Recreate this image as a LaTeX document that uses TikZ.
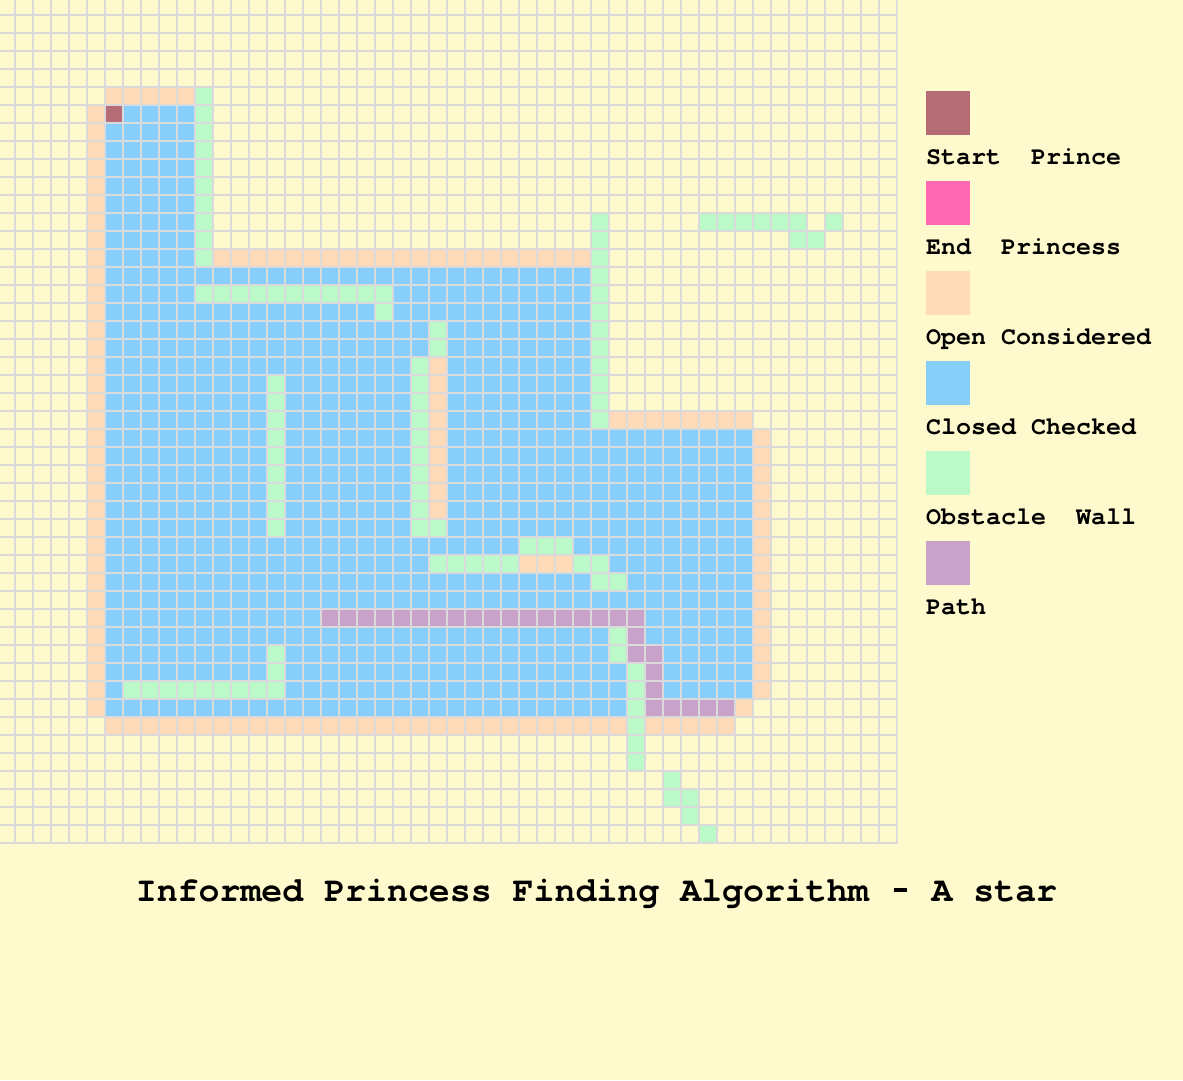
\documentclass[tikz,border=0pt]{standalone}
\usepackage{fontspec}
\setmonofont{texgyrecursor}[Extension=.otf,UprightFont=*-regular,BoldFont=*-bold]
\definecolor{bgc}{RGB}{255,250,205}
\definecolor{gridc}{RGB}{218,218,218}
\definecolor{bluec}{RGB}{135,206,250}
\definecolor{peachc}{RGB}{255,218,185}
\definecolor{greenc}{RGB}{187,250,200}
\definecolor{purplec}{RGB}{200,162,200}
\definecolor{startc}{RGB}{181,108,118}
\definecolor{endc}{RGB}{255,105,180}
\newcommand\cells[5]{\fill[#1] ({18*#2-3.3},{18*#3-3.3}) rectangle ({18*#4+14.7},{18*#5+14.7});}
\newcommand\shorthyph{\makebox[0.6em]{\rule[0.27em]{0.38em}{0.09em}}}
\tikzset{
  legbox/.style={minimum width=44pt,minimum height=44pt,inner sep=0pt,anchor=north west},
  leglabel/.style={anchor=base west,inner sep=0pt,font=\ttfamily\bfseries\fontsize{25}{28}\selectfont},
  gridline/.style={gridc,line width=1.8pt}
}
\begin{document}
\begin{tikzpicture}[x=1pt,y=-1pt]
\fill[bgc] (0,0) rectangle (1183,1080);
\useasboundingbox (0,0) rectangle (1183,1080);
\begin{scope}
\clip (0,0) rectangle (897.6,843.6);
% closed / checked
\cells{bluec}{6}{6}{10}{14}
\cells{bluec}{6}{15}{32}{23}
\cells{bluec}{6}{24}{41}{39}
% open / considered
\cells{peachc}{6}{5}{10}{5}
\cells{peachc}{5}{6}{5}{39}
\cells{peachc}{12}{14}{32}{14}
\cells{peachc}{34}{23}{41}{23}
\cells{peachc}{42}{24}{42}{38}
\cells{peachc}{41}{39}{41}{39}
\cells{peachc}{6}{40}{34}{40}
\cells{peachc}{36}{40}{40}{40}
\cells{peachc}{24}{20}{24}{28}
\cells{peachc}{29}{31}{31}{31}
% obstacles
\cells{greenc}{11}{5}{11}{14}
\cells{greenc}{33}{12}{33}{23}
\cells{greenc}{39}{12}{44}{12}
\cells{greenc}{46}{12}{46}{12}
\cells{greenc}{44}{13}{45}{13}
\cells{greenc}{11}{16}{21}{16}
\cells{greenc}{21}{17}{21}{17}
\cells{greenc}{24}{18}{24}{19}
\cells{greenc}{23}{20}{23}{29}
\cells{greenc}{24}{29}{24}{29}
\cells{greenc}{15}{21}{15}{29}
\cells{greenc}{15}{36}{15}{38}
\cells{greenc}{7}{38}{15}{38}
\cells{greenc}{29}{30}{31}{30}
\cells{greenc}{24}{31}{28}{31}
\cells{greenc}{32}{31}{33}{31}
\cells{greenc}{33}{32}{34}{32}
\cells{greenc}{34}{35}{34}{36}
\cells{greenc}{35}{37}{35}{42}
\cells{greenc}{37}{43}{37}{44}
\cells{greenc}{38}{44}{38}{45}
\cells{greenc}{39}{46}{39}{46}
% path
\cells{purplec}{18}{34}{35}{34}
\cells{purplec}{35}{35}{35}{36}
\cells{purplec}{36}{36}{36}{39}
\cells{purplec}{37}{39}{40}{39}
% start
\cells{startc}{6}{6}{6}{6}
% grid
\foreach \k in {0,...,49} \draw[gridline] ({18*\k+14.7},0) -- ({18*\k+14.7},843.6);
\foreach \k in {0,...,46} \draw[gridline] (0,{18*\k+14.7}) -- (897.6,{18*\k+14.7});
\end{scope}
% legend
\node[legbox,fill=startc]  (lstart) at (926,91) {};
\node[legbox,fill=endc]    (lend)   at (926,181) {};
\node[legbox,fill=peachc]  (lopen)  at (926,271) {};
\node[legbox,fill=bluec]   (lclosed) at (926,361) {};
\node[legbox,fill=greenc]  (lwall)  at (926,451) {};
\node[legbox,fill=purplec] (lpath)  at (926,541) {};
\node[leglabel] (tstart)  at (926,164) {Start~~Prince};
\node[leglabel] (tend)    at (926,254) {End~~Princess};
\node[leglabel] (topen)   at (926,344) {Open Considered};
\node[leglabel] (tclosed) at (926,434) {Closed Checked};
\node[leglabel] (twall)   at (926,524) {Obstacle~~Wall};
\node[leglabel] (tpath)   at (926,614) {Path};
% title
\node[anchor=base,inner sep=0pt,font=\ttfamily\bfseries\fontsize{34.9}{40}\selectfont] (title) at (596.5,901) {Informed Princess Finding Algorithm \shorthyph{} A star};
\end{tikzpicture}
\end{document}
